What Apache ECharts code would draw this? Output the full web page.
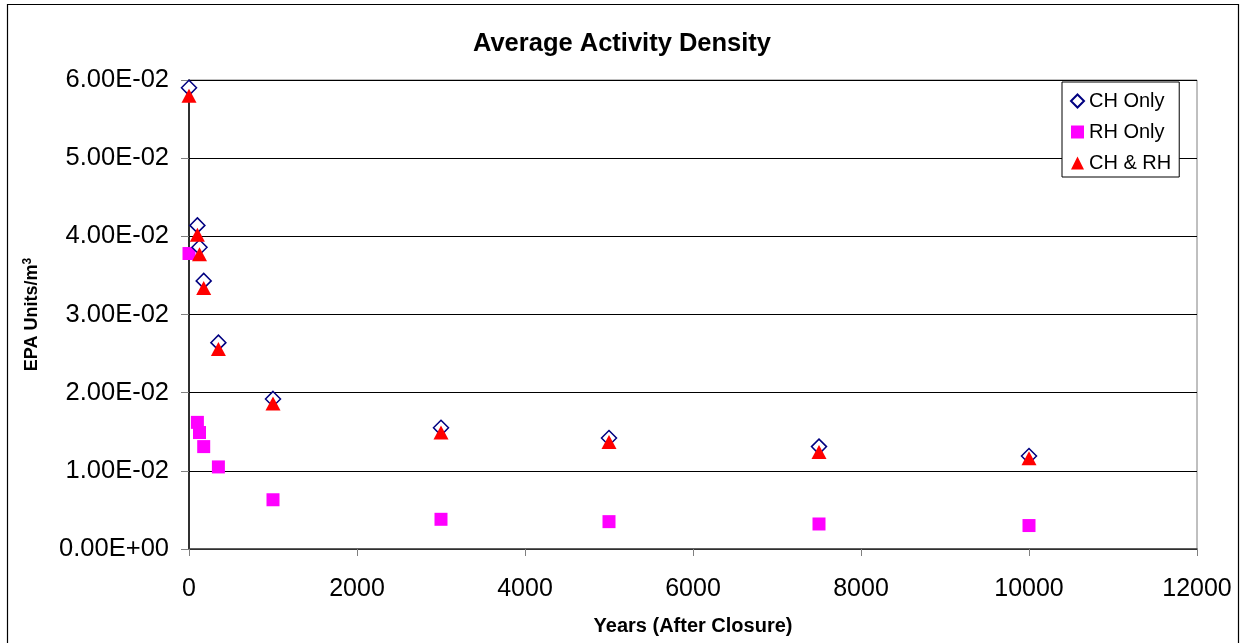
<!DOCTYPE html>
<html><head><meta charset="utf-8">
<script src="https://cdn.jsdelivr.net/npm/echarts@6/dist/echarts.min.js"></script>
<style>html,body{margin:0;padding:0;background:#fff}#c{width:1244px;height:643px}</style>
</head><body><div id="c"></div>
<script>
const years = [0, 100, 125, 175, 350, 1000, 3000, 5000, 7500, 10000];
const chOnly = [0.0590, 0.0414, 0.0386, 0.0343, 0.0264, 0.0192, 0.0155, 0.0142, 0.0131, 0.0119];
const rhOnly = [0.0378, 0.0162, 0.0149, 0.0131, 0.0105, 0.0063, 0.0038, 0.0035, 0.0032, 0.0030];
const chRh = [0.0580, 0.0402, 0.0377, 0.0334, 0.0256, 0.0186, 0.0149, 0.0137, 0.0124, 0.0116];
const seriesNames = ['CH Only', 'RH Only', 'CH & RH'];

const FONT = 'Arial, "Liberation Sans", sans-serif';
function fmtExp(v) {
  let s = Number(v).toExponential(2).toUpperCase();
  const m = s.match(/^(.*)E([+-])(\d+)$/);
  if (!m) return s;
  return m[1] + 'E' + m[2] + (m[3].length < 2 ? '0' + m[3] : m[3]);
}
const pair = arr => years.map((y, i) => [y, arr[i]]);

const chart = echarts.init(document.getElementById('c'));
chart.setOption({
  animation: false,
  backgroundColor: '#fff',
  textStyle: { fontFamily: FONT },
  title: {
    text: 'Average Activity Density', left: 'center', top: 26,
    textStyle: { fontSize: 25.5, fontWeight: 'bold', color: '#000', fontFamily: FONT }
  },
  graphic: [{
    type: 'rect', z: -1, silent: true,
    shape: { x: 7.5, y: 4.5, width: 1231, height: 660 },
    style: { fill: '#fff', stroke: '#000', lineWidth: 1.2 }
  }],
  grid: { left: 189, right: 47, top: 80, bottom: 94, show: true, borderColor: '#808080', borderWidth: 1, backgroundColor: 'transparent' },
  legend: {
    orient: 'vertical', left: 1062, top: 82,
    padding: [9, 8, 4, 8], itemGap: 11,
    itemWidth: 13, itemHeight: 13,
    backgroundColor: '#fff', borderColor: '#000', borderWidth: 1,
    textStyle: { fontSize: 20, color: '#000', fontFamily: FONT, lineHeight: 20 },
    data: seriesNames
  },
  xAxis: {
    type: 'value', min: 0, max: 12000, interval: 2000,
    name: 'Years (After Closure)', nameLocation: 'middle', nameGap: 67,
    nameTextStyle: { fontSize: 20, fontWeight: 'bold', color: '#000', fontFamily: FONT },
    axisLine: { show: true, onZero: false, lineStyle: { color: '#404040', width: 1.5 } },
    axisTick: { show: true, length: 7, inside: false, lineStyle: { color: '#808080' } },
    axisLabel: { fontSize: 25, color: '#000', margin: 28, fontFamily: FONT, formatter: v => String(v) },
    splitLine: { show: false }
  },
  yAxis: {
    type: 'value', min: 0, max: 0.06, interval: 0.01,
    name: 'EPA Units/m{sup|3}', nameLocation: 'middle', nameGap: 146,
    nameTextStyle: { fontSize: 18, fontWeight: 'bold', color: '#000', fontFamily: FONT,
      rich: { sup: { fontSize: 12, fontWeight: 'bold', verticalAlign: 'top', padding: [0, 0, 9, 0], fontFamily: FONT } } },
    axisLine: { show: true, onZero: false, lineStyle: { color: '#000', width: 1.5 } },
    axisTick: { show: true, length: 8, inside: false, lineStyle: { color: '#808080' } },
    axisLabel: { fontSize: 25.5, color: '#000', margin: 20, fontFamily: FONT, formatter: fmtExp },
    splitLine: { show: true, lineStyle: { color: '#000', width: 1 } }
  },
  series: [
    {
      name: seriesNames[0], type: 'scatter', data: pair(chOnly), symbol: 'diamond', symbolSize: 15, z: 3,
      itemStyle: { color: '#fff', borderColor: '#000080', borderWidth: 1.5, opacity: 1 }
    },
    {
      name: seriesNames[1], type: 'scatter', data: pair(rhOnly), symbol: 'rect', symbolSize: 13, z: 2,
      itemStyle: { color: '#ff00ff', opacity: 1 }
    },
    {
      name: seriesNames[2], type: 'scatter', data: pair(chRh), symbol: 'triangle', symbolSize: [15, 14], z: 4,
      itemStyle: { color: '#ff0000', opacity: 1 }
    }
  ]
});
</script></body></html>
